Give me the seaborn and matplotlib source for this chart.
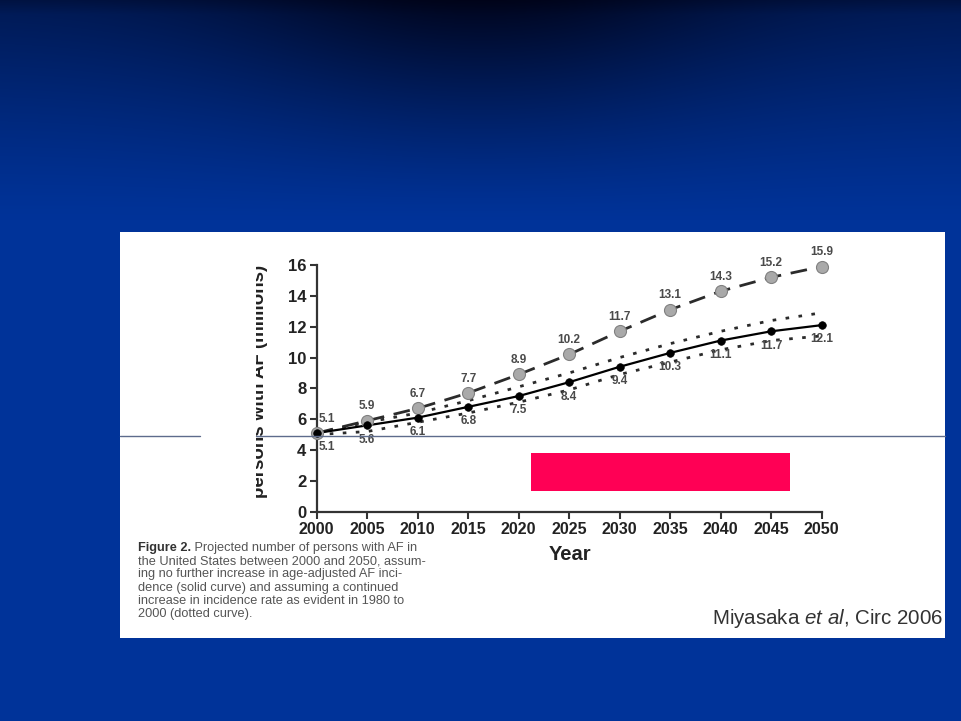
import numpy as np
import pandas as pd
import matplotlib
matplotlib.use("Agg")
import matplotlib.pyplot as plt
import matplotlib.patches as mpatches
from matplotlib.transforms import Bbox, TransformedBbox
import seaborn as sns

# ---------------- data ----------------
years = [2000, 2005, 2010, 2015, 2020, 2025, 2030, 2035, 2040, 2045, 2050]
continued_increase = [5.1, 5.9, 6.7, 7.7, 8.9, 10.2, 11.7, 13.1, 14.3, 15.2, 15.9]
no_further_increase = [5.1, 5.6, 6.1, 6.8, 7.5, 8.4, 9.4, 10.3, 11.1, 11.7, 12.1]
dotted_upper = [5.1, 5.8, 6.4, 7.2, 8.1, 9.0, 10.0, 10.9, 11.7, 12.4, 12.9]
dotted_lower = [5.0, 5.2, 5.8, 6.4, 7.1, 7.9, 8.9, 9.7, 10.5, 11.1, 11.4]
x_ticks = [2000, 2005, 2010, 2015, 2020, 2025, 2030, 2035, 2040, 2045, 2050]
y_ticks = [0, 2, 4, 6, 8, 10, 12, 14, 16]

x_label = "Year"
y_label = "persons with AF (millions)"
caption_bold = "Figure 2."
caption_lines = [
    " Projected number of persons with AF in",
    "the United States between 2000 and 2050, assum-",
    "ing no further increase in age-adjusted AF inci-",
    "dence (solid curve) and assuming a continued",
    "increase in incidence rate as evident in 1980 to",
    "2000 (dotted curve).",
]
citation = r"Miyasaka $\mathit{et\ al}$, Circ 2006"

df = pd.DataFrame({
    "year": years,
    "upper": continued_increase,
    "solid": no_further_increase,
    "dot_hi": dotted_upper,
    "dot_lo": dotted_lower,
})

# ---------------- style ----------------
sns.set_theme(style="white")
plt.rcParams["font.family"] = ["Liberation Sans", "DejaVu Sans"]
plt.rcParams["mathtext.fontset"] = "custom"
plt.rcParams["mathtext.rm"] = "Liberation Sans"
plt.rcParams["mathtext.it"] = "Liberation Sans:italic"
plt.rcParams["mathtext.bf"] = "Liberation Sans:bold"

W, H = 961, 721
fig = plt.figure(figsize=(W / 100, H / 100), dpi=100)

# background gradient (slide)
bg = fig.add_axes([0, 0, 1, 1])
yy, xx = np.mgrid[0:H, 0:W]
fy_ = np.clip(1 - yy / 220.0, 0, 1) ** 1.2
gx_ = 0.5 + 0.4 * np.exp(-((xx - 480) / 250.0) ** 2)
d = fy_ * gx_
d = d + 0.25 * np.clip(1 - yy / 14.0, 0, 1) * (1 - d)
d = np.clip(d, 0, 0.95)
base = np.array([0, 51, 153]) / 255.0
img = base[None, None, :] * (1 - d[..., None])
img[..., 2] += 0.06 * d
bg.imshow(np.clip(img, 0, 1), extent=[0, W, H, 0], aspect="auto", interpolation="bilinear")
bg.set_xlim(0, W)
bg.set_ylim(H, 0)
bg.axis("off")

def fx(px):
    return px / W

def fy(py):
    return 1 - py / H

# white picture
fig.patches.append(mpatches.Rectangle((fx(120), fy(638)), fx(945) - fx(120), fy(232) - fy(638),
                                      transform=fig.transFigure, facecolor="white",
                                      edgecolor="none", zorder=1))

# ---------------- main axes ----------------
ax = fig.add_axes([fx(316.7), fy(511.7), fx(821.7) - fx(316.7), fy(265) - fy(511.7)])
ax.set_facecolor("none")
ax.set_zorder(3)

dark = "#2b2b2b"
sns.lineplot(data=df, x="year", y="dot_hi", ax=ax, color=dark, lw=2.0,
             linestyle=(0, (1.3, 3.4)), clip_on=False)
sns.lineplot(data=df, x="year", y="dot_lo", ax=ax, color=dark, lw=2.0,
             linestyle=(0, (1.3, 3.4)), clip_on=False)
sns.lineplot(data=df, x="year", y="upper", ax=ax, color=dark, lw=2.0,
             linestyle=(0, (6, 3.5)), clip_on=False)
sns.lineplot(data=df, x="year", y="solid", ax=ax, color="black", lw=1.6, clip_on=False)
sns.scatterplot(data=df, x="year", y="upper", ax=ax, s=75, color="#a9a9a9",
                edgecolor="#808080", linewidth=0.8, zorder=5, clip_on=False)
sns.scatterplot(data=df, x="year", y="solid", ax=ax, s=30, color="black",
                edgecolor="black", linewidth=0.5, zorder=5, clip_on=False)

lab_kw = dict(fontsize=8.5, fontweight="bold", color="#4a4a4a", ha="center",
              textcoords="offset points", zorder=6)
for i, (yr, v) in enumerate(zip(years, continued_increase)):
    dx = 7 if i == 0 else 0
    ax.annotate(f"{v:.1f}", (yr, v), xytext=(dx, 6), va="bottom", **lab_kw)
for i, (yr, v) in enumerate(zip(years, no_further_increase)):
    dx = 7 if i == 0 else 0
    ax.annotate(f"{v:.1f}", (yr, v), xytext=(dx, -6), va="top", **lab_kw)

ax.set_xlim(2000, 2050)
ax.set_ylim(0, 16)
ax.set_xticks(x_ticks)
ax.set_yticks(y_ticks)
ax.set_xticklabels([str(t) for t in x_ticks], fontsize=11.5, fontweight="bold", color="#222222")
ax.set_yticklabels([str(t) for t in y_ticks], fontsize=12, fontweight="bold", color="#222222")
ax.tick_params(axis="both", direction="out", length=5, width=1.5, color="#333333",
               bottom=True, left=True, pad=2.5)
for side in ["top", "right"]:
    ax.spines[side].set_visible(False)
for side in ["left", "bottom"]:
    ax.spines[side].set_color("#333333")
    ax.spines[side].set_linewidth(1.6)
ax.set_xlabel("")
ax.set_ylabel("")

# axis titles
fig.text(fx(570), fy(555), x_label, fontsize=14.5, fontweight="bold", color="#222222",
         ha="center", va="center", zorder=4)
ylab = fig.text(fx(260), fy(381), y_label, fontsize=13.5, fontweight="bold", color="#222222",
                rotation=90, ha="center", va="center", zorder=4)
ylab.set_clip_on(True)
ylab.set_clip_box(TransformedBbox(Bbox([[fx(256), 0], [1, 1]]), fig.transFigure))

# caption
cap_kw = dict(fontsize=9.2, color="#555555", ha="left", va="center", zorder=4)
bold_t = fig.text(fx(138), fy(548), caption_bold, fontweight="bold", **{**cap_kw, "color": "#333333"})
fig.canvas.draw()
bb = bold_t.get_window_extent(renderer=fig.canvas.get_renderer())
for k, line in enumerate(caption_lines):
    x0 = bb.x1 / W if k == 0 else fx(138)
    fig.text(x0, fy(548 + k * 13.2), line, **cap_kw)

fig.text(fx(943), fy(618), citation, fontsize=14.8, color="#333333",
         ha="right", va="center", zorder=4)

# pink box
fig.patches.append(mpatches.Rectangle((fx(531), fy(491)), fx(790) - fx(531), fy(453) - fy(491),
                                      transform=fig.transFigure, facecolor="#ff0055",
                                      edgecolor="none", zorder=6))

# thin horizontal line across the slide
for x0, x1 in [(120, 200), (256, 945)]:
    fig.add_artist(plt.Line2D([fx(x0), fx(x1)], [fy(436), fy(436)], transform=fig.transFigure,
                              color="#5d6b8c", lw=1.0, zorder=7))

fig.savefig("out.png", dpi=100)
